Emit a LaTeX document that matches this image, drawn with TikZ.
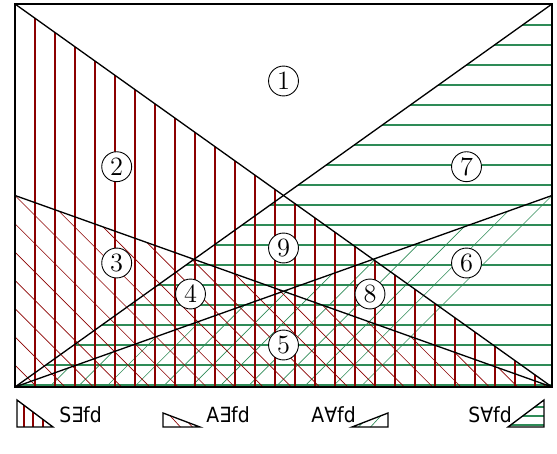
\documentclass[tikz,border=0pt]{standalone}
\usepackage{fontspec}
\newfontfamily\legfont{DejaVu Sans Condensed}
\definecolor{hred}{RGB}{139,0,0}
\definecolor{hgreen}{RGB}{46,139,87}
\begin{document}
\begin{tikzpicture}[x=0.4545pt,y=-0.4545pt,
  edge/.style={black,line width=0.6pt},
  frame/.style={black,line width=0.9pt},
  rthick/.style={hred,line width=0.9pt},
  gthick/.style={hgreen,line width=0.9pt},
  rthin/.style={hred,line width=0.3pt},
  gthin/.style={hgreen,line width=0.3pt},
  num/.style={circle,draw,fill=white,inner sep=0pt,minimum size=13.6pt,font=\large},
  leg/.style={font=\legfont\fontsize{9.5}{11}\selectfont,anchor=west,inner sep=0pt}]
\useasboundingbox (0,0) rectangle (557,454);
\coordinate (TL) at (15,4);
\coordinate (TR) at (552,4);
\coordinate (BL) at (15,387);
\coordinate (BR) at (552,387);
\coordinate (ML) at (15,195.5);
\coordinate (MR) at (552,195.5);
% S-forall: green horizontal
\begin{scope}
  \clip (TR) -- (BR) -- (BL) -- cycle;
  \foreach \y in {25,45,...,385} \draw[gthick] (15,\y) -- (552,\y);
\end{scope}
% A-forall: thin green /
\begin{scope}
  \clip (BL) -- (MR) -- (BR) -- cycle;
  \foreach \k in {0,...,13} \draw[gthin] ({747.5-28.28*\k-400},400) -- ({747.5-28.28*\k-180},180);
\end{scope}
% A-exists: thin red \
\begin{scope}
  \clip (ML) -- (BR) -- (BL) -- cycle;
  \foreach \k in {-13,...,7} \draw[rthin] ({180-180.5-28.28*\k},180) -- ({400-180.5-28.28*\k},400);
\end{scope}
% S-exists: red vertical
\begin{scope}
  \clip (TL) -- (BR) -- (BL) -- cycle;
  \foreach \x in {35,55,...,535} \draw[rthick] (\x,0) -- (\x,387);
\end{scope}
% black lines
\draw[edge] (TL) -- (BR);
\draw[edge] (BL) -- (TR);
\draw[edge] (ML) -- (BR);
\draw[edge] (BL) -- (MR);
\draw[frame] (TL) rectangle (BR);
% labels
\node[num] (n1) at (283.5,81) {1};
\node[num] (n2) at (116.7,166.7) {2};
\node[num] (n3) at (116.7,263) {3};
\node[num] (n4) at (190.5,294) {4};
\node[num] (n5) at (283.5,345) {5};
\node[num] (n6) at (466.5,263) {6};
\node[num] (n7) at (466.5,166.7) {7};
\node[num] (n8) at (370,294) {8};
\node[num] (n9) at (283.5,248) {9};
% legend 1
\begin{scope}
  \clip (17,400) -- (53,427) -- (17,427) -- cycle;
  \foreach \x in {24,33,43} \draw[rthick] (\x,395) -- (\x,427);
\end{scope}
\draw[edge] (17,427) -- (17,400) -- (53,427) -- cycle;
\node[leg] (l1) at (59,415) {S∃fd};
% legend 2
\begin{scope}
  \clip (163,413) -- (200,427) -- (163,427) -- cycle;
  \foreach \k in {0,1,2} \draw[rthin] ({163+12*\k},408) -- ({163+12*\k+22},432);
\end{scope}
\draw[edge] (163,427) -- (163,413) -- (200,427) -- cycle;
\node[leg] (l2) at (206,415) {A∃fd};
% legend 3
\begin{scope}
  \clip (352,427) -- (388,413) -- (388,427) -- cycle;
  \foreach \k in {0,1,2} \draw[gthin] ({388-12*\k},408) -- ({388-12*\k-22},432);
\end{scope}
\draw[edge] (352,427) -- (388,413) -- (388,427) -- cycle;
\node[leg] (l3) at (311,415) {A∀fd};
% legend 4
\begin{scope}
  \clip (508,427) -- (544,400) -- (544,427) -- cycle;
  \foreach \y in {407,416,425} \draw[gthick] (505,\y) -- (544,\y);
\end{scope}
\draw[edge] (508,427) -- (544,400) -- (544,427) -- cycle;
\node[leg] (l4) at (468,415) {S∀fd};
\end{tikzpicture}
\end{document}
